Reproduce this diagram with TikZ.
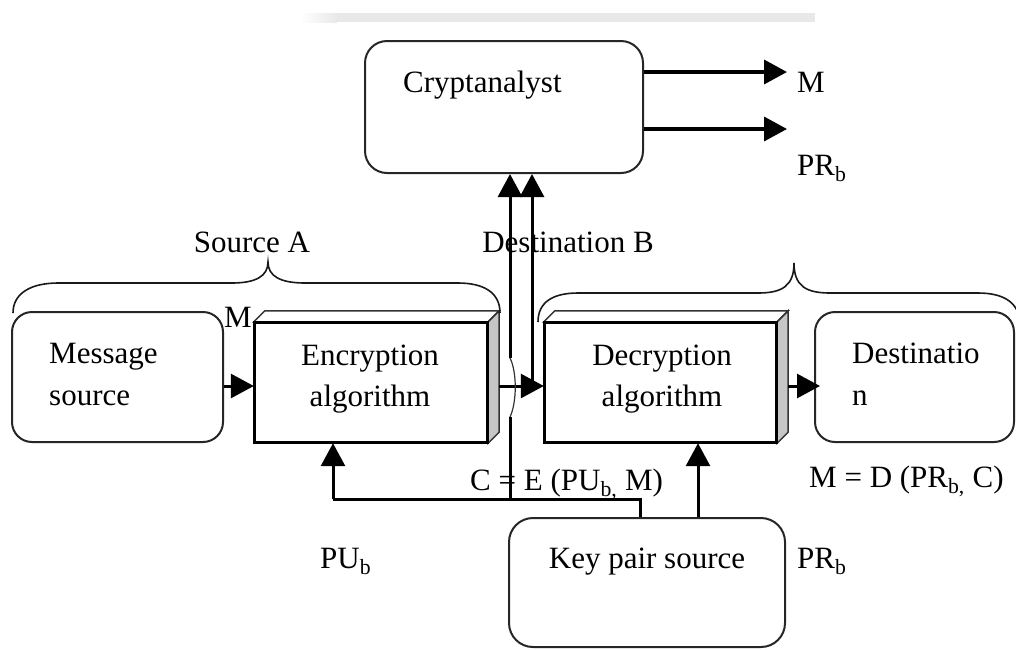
\documentclass[tikz,border=0pt]{standalone}
\usepackage{fontspec}
\setmainfont{Liberation Serif}
\usetikzlibrary{arrows.meta}
\begin{document}
\begin{tikzpicture}[x=1pt,y=-1pt,
  txt/.style={inner sep=0pt, font=\fontsize{31}{37}\selectfont, anchor=base west},
  ctxt/.style={txt, anchor=base},
  rbox/.style={draw=black!85, line width=2pt, rounded corners=22pt, inner sep=0pt},
  fbox/.style={draw=black, line width=2.4pt, fill=white, inner sep=0pt, minimum height=119pt},
  backface/.style={draw=black!80, line width=1.5pt, fill=white},
  sideface/.style={draw=black!80, line width=1.5pt, fill=gray!45},
  arr/.style={line width=3pt, -{Triangle[length=23pt,width=24pt]}},
  plainline/.style={line width=3pt},
  jumpline/.style={line width=1.2pt, black!80},
  bracestyle/.style={line width=1.6pt, black!90},
]
\useasboundingbox (0,0) rectangle (1016,649);

% faint bar at the top
\fill[gray!18] (336,13) rectangle (815,22);
\shade[left color=white, right color=gray!18] (300,13) rectangle (337,22);

% boxes
\node[rbox, minimum width=278pt, minimum height=132pt] (crypt) at (504,107) {};
\node[rbox, rounded corners=20pt, minimum width=211pt, minimum height=130pt] (msg) at (117.5,377) {};
\node[rbox, rounded corners=20pt, minimum width=199pt, minimum height=130pt] (dest) at (914.5,377) {};
\node[rbox, rounded corners=24pt, minimum width=276pt, minimum height=129pt] (key) at (647,582.5) {};

% 3D boxes
\foreach \nm/\cx/\w in {enc/371/232, dec/660.5/231}{
  \node[fbox, minimum width=\w pt] (\nm) at (\cx,382.5) {};
  \draw[backface] (\nm.north west) -- ([shift={(11,-11)}]\nm.north west)
     -- ([shift={(11,-11)}]\nm.north east) -- (\nm.north east) -- cycle;
  \draw[sideface] (\nm.north east) -- ([shift={(11,-11)}]\nm.north east)
     -- ([shift={(11,-11)}]\nm.south east) -- (\nm.south east) -- cycle;
  \draw[draw=black, line width=2.4pt] (\nm.north west) rectangle (\nm.south east);
}

% texts
\node[txt] (tcrypt) at (403,92) {Cryptanalyst};
\node[txt] (tm) at (797,92) {M};
\node[txt] (tpr) at (797,175) {PR\textsubscript{b}};
\node[ctxt] (tsa) at (252,252) {Source A};
\node[ctxt] (tdb) at (568,252) {Destination B};
\node[ctxt] (tm2) at (238,327) {M};
\node[txt] (tmsg1) at (49,363) {Message};
\node[txt] (tmsg2) at (49,405) {source};
\node[ctxt] (tenc1) at (370,365) {Encryption};
\node[ctxt] (tenc2) at (370,406) {algorithm};
\node[ctxt] (tdec1) at (662,365) {Decryption};
\node[ctxt] (tdec2) at (662,406) {algorithm};
\node[txt] (tdest1) at (852,363) {Destinatio};
\node[txt] (tdest2) at (852,405) {n};
\node[txt] (tce) at (470,490) {C = E (PU\textsubscript{b,} M)};
\node[txt] (tmd) at (809,487) {M = D (PR\textsubscript{b,} C)};
\node[txt] (tpu) at (320,568) {PU\textsubscript{b}};
\node[ctxt] (tkey) at (647,568) {Key pair source};
\node[txt] (tprk) at (797,568) {PR\textsubscript{b}};

% braces
\draw[bracestyle] (13,313) .. controls (13,292) and (33,283) .. (58,283)
  -- (232,283) .. controls (256,283) and (268,276) .. (268,262)
  .. controls (268,276) and (280,283) .. (305,283)
  -- (458,283) .. controls (483,283) and (500,292) .. (500,313);
\draw[bracestyle] (538,322) .. controls (538,302) and (553,293) .. (578,293)
  -- (758,293) .. controls (782,293) and (794,286) .. (794,263)
  .. controls (794,286) and (806,293) .. (830,293)
  -- (978,293) .. controls (1003,293) and (1020,302) .. (1020,325);

% coordinates for free ends
\coordinate (mo) at (787,72);
\coordinate (pro) at (787,129);
\coordinate (crossy) at (0,386);
\coordinate (cbot) at (510,499);
\coordinate (jlo) at (510,417);
\coordinate (jhi) at (510,358);
\coordinate (rstart) at (532,386);
\coordinate (pucorner) at (333,499);
\coordinate (pux) at (640,0);
\coordinate (prx) at (698,0);

% arrows
\draw[arr, line width=3.5pt] (crypt.east |- mo) -- (mo);
\draw[arr, line width=3.5pt] (crypt.east |- pro) -- (pro);
\draw[arr] (msg.east |- crossy) -- (enc.west |- crossy);
\draw[arr] ([xshift=11pt]enc.east |- crossy) -- (dec.west |- crossy);
\draw[arr] ([xshift=11pt]dec.east |- crossy) -- ([xshift=6pt]dest.west |- crossy);

% ciphertext lines to cryptanalyst
\draw[plainline] (cbot) -- (jlo);
\draw[jumpline] (jlo) .. controls (517,402) and (517,372) .. (jhi);
\draw[arr] (jhi) -- (crypt.south -| jhi);
\draw[arr] (rstart) -- (crypt.south -| rstart);

% keys
\draw[plainline] (key.north -| pux) -- (cbot -| pux) -- (pucorner);
\draw[arr] (pucorner) -- (enc.south -| pucorner);
\draw[arr] (key.north -| prx) -- (dec.south -| prx);

\end{tikzpicture}
\end{document}
